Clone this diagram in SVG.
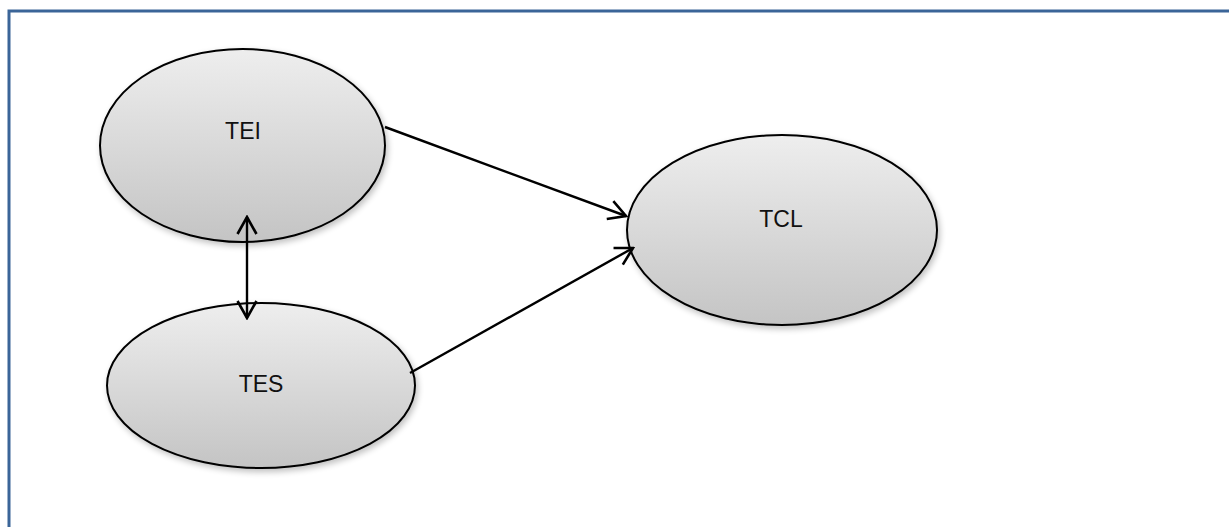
<svg xmlns="http://www.w3.org/2000/svg" width="1229" height="527" viewBox="0 0 1229 527">
  <style>
    .node ellipse { fill: url(#g); stroke: #000; stroke-width: 2; filter: url(#sh); }
    .node text { font-family: "Liberation Sans", Arial, sans-serif; font-size: 23px; fill: #111; text-anchor: middle; }
    .conn line { stroke: #000; stroke-width: 2.4; fill: none; }
  </style>
  <defs>
    <linearGradient id="g" x1="0" y1="0" x2="0" y2="1">
      <stop offset="0" stop-color="#eeeeee"/>
      <stop offset="1" stop-color="#c4c4c4"/>
    </linearGradient>
    <filter id="sh" x="-10%" y="-10%" width="125%" height="130%">
      <feGaussianBlur in="SourceAlpha" stdDeviation="3"/>
      <feOffset dx="2" dy="3" result="b"/>
      <feComponentTransfer><feFuncA type="linear" slope="0.25"/></feComponentTransfer>
      <feMerge><feMergeNode/><feMergeNode in="SourceGraphic"/></feMerge>
    </filter>
    <marker id="ah" markerUnits="userSpaceOnUse" viewBox="-20 -12 22 24" refX="0" refY="0" markerWidth="22" markerHeight="24" orient="auto-start-reverse">
      <path d="M-17,-9.5 L0,0 L-17,9.5" fill="none" stroke="#000" stroke-width="2.6"/>
    </marker>
  </defs>
  <rect x="9" y="11" width="1240" height="540" fill="#fff" stroke="#3b6598" stroke-width="3"/>
  <g id="TEI" class="node">
    <ellipse cx="242.5" cy="145.5" rx="142.5" ry="96.5"/>
    <text x="243" y="139">TEI</text>
  </g>
  <g id="TES" class="node">
    <ellipse cx="261" cy="385.5" rx="154" ry="82.5"/>
    <text x="261" y="392">TES</text>
  </g>
  <g id="TCL" class="node">
    <ellipse cx="782" cy="230" rx="155" ry="95"/>
    <text x="781" y="227">TCL</text>
  </g>
  <g id="connectors" class="conn">
    <line x1="385" y1="127" x2="626" y2="216" marker-end="url(#ah)"/>
    <line x1="410" y1="373" x2="633" y2="248" marker-end="url(#ah)"/>
    <line x1="247" y1="217" x2="247" y2="318" marker-start="url(#ah)" marker-end="url(#ah)"/>
  </g>
</svg>
